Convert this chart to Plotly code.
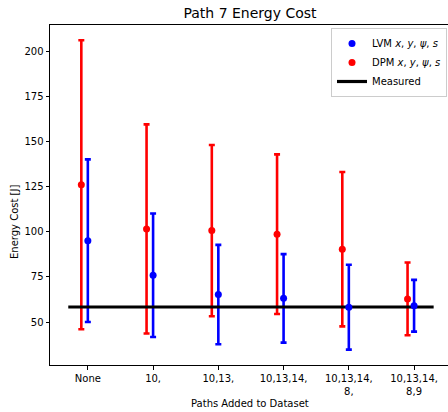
import plotly.graph_objects as go

categories = ["None", "10,", "10,13,", "10,13,14,", "10,13,14,<br>8,", "10,13,14,<br>8,9"]
lvm_mean = [95.0, 75.9, 65.2, 63.1, 58.2, 59.0]
lvm_err = [45.0, 34.2, 27.5, 24.5, 23.5, 14.3]
dpm_mean = [126.0, 101.5, 100.6, 98.6, 90.3, 62.8]
dpm_err = [80.0, 57.9, 47.4, 44.2, 42.7, 20.1]
measured = 58.3

BLUE = "#0000ff"
RED = "#ff0000"
n = len(categories)
x_lvm = list(range(n))
x_dpm = [i - 0.1 for i in range(n)]

W, H = 448, 412
L, R, T, B = 50, 0, 25, 47
PW, PH = W - L - R, H - T - B

fig = go.Figure()

# error bars (drawn first)
fig.add_trace(go.Scatter(x=x_lvm, y=lvm_mean, mode="markers", marker=dict(size=1, color="rgba(0,0,0,0)"),
                         error_y=dict(type="data", array=lvm_err, color=BLUE, thickness=2.6, width=3),
                         showlegend=False, hoverinfo="skip"))
fig.add_trace(go.Scatter(x=x_dpm, y=dpm_mean, mode="markers", marker=dict(size=1, color="rgba(0,0,0,0)"),
                         error_y=dict(type="data", array=dpm_err, color=RED, thickness=2.6, width=3),
                         showlegend=False, hoverinfo="skip"))
# measured line
fig.add_trace(go.Scatter(x=[-0.3, n - 1 + 0.3], y=[measured, measured], mode="lines",
                         line=dict(color="black", width=3.2), name="Measured", legendrank=3))
# markers on top
fig.add_trace(go.Scatter(x=x_lvm, y=lvm_mean, mode="markers", marker=dict(size=7, color=BLUE),
                         name="LVM <i>x</i>, <i>y</i>, <i>ψ</i>, <i>s</i>", legendrank=1))
fig.add_trace(go.Scatter(x=x_dpm, y=dpm_mean, mode="markers", marker=dict(size=7, color=RED),
                         name="DPM <i>x</i>, <i>y</i>, <i>ψ</i>, <i>s</i>", legendrank=2))

fig.update_layout(
    width=W, height=H,
    margin=dict(l=L, r=R, t=T, b=B, autoexpand=False),
    paper_bgcolor="white", plot_bgcolor="white",
    font=dict(family="DejaVu Sans", size=10, color="black"),
    title=dict(text="Path 7 Energy Cost", x=250 / W, xref="container", xanchor="center",
               y=1 - 13 / H, yref="container", yanchor="middle",
               font=dict(size=14, color="black")),
    showlegend=True,
    legend=dict(x=(447 - L) / PW, xref="paper", xanchor="right", y=1 - 3 / PH, yanchor="top",
                bgcolor="white", bordercolor="#cccccc", borderwidth=1,
                font=dict(size=10), tracegroupgap=0, itemwidth=30),
    xaxis=dict(range=[-0.58, 5.52], tickmode="array", tickvals=list(range(n)), ticktext=categories,
               showgrid=False, zeroline=False, showline=True, linecolor="black", linewidth=1,
               mirror=True, ticks="outside", ticklen=3.5, tickwidth=1, tickcolor="black",
               automargin=False),
    yaxis=dict(range=[26.2, 214.4], tickmode="array", tickvals=[50, 75, 100, 125, 150, 175, 200],
               showgrid=False, zeroline=False, showline=True, linecolor="black", linewidth=1,
               ticks="outside", ticklen=3.5, tickwidth=1, tickcolor="black",
               automargin=False),
    annotations=[
        dict(text="Paths Added to Dataset", xref="paper", yref="paper",
             x=(250 - L) / PW, y=-(403 - T - PH) / PH, xanchor="center", yanchor="middle",
             showarrow=False, font=dict(size=10)),
        dict(text="Energy Cost [J]", xref="paper", yref="paper", textangle=-90,
             x=(14 - L) / PW, y=1 - (222 - T) / PH, xanchor="center", yanchor="middle",
             showarrow=False, font=dict(size=10)),
    ],
)

fig.write_html("out.html", config={"displayModeBar": False},
               post_script="document.body.style.margin='0';document.body.style.overflow='hidden';")
